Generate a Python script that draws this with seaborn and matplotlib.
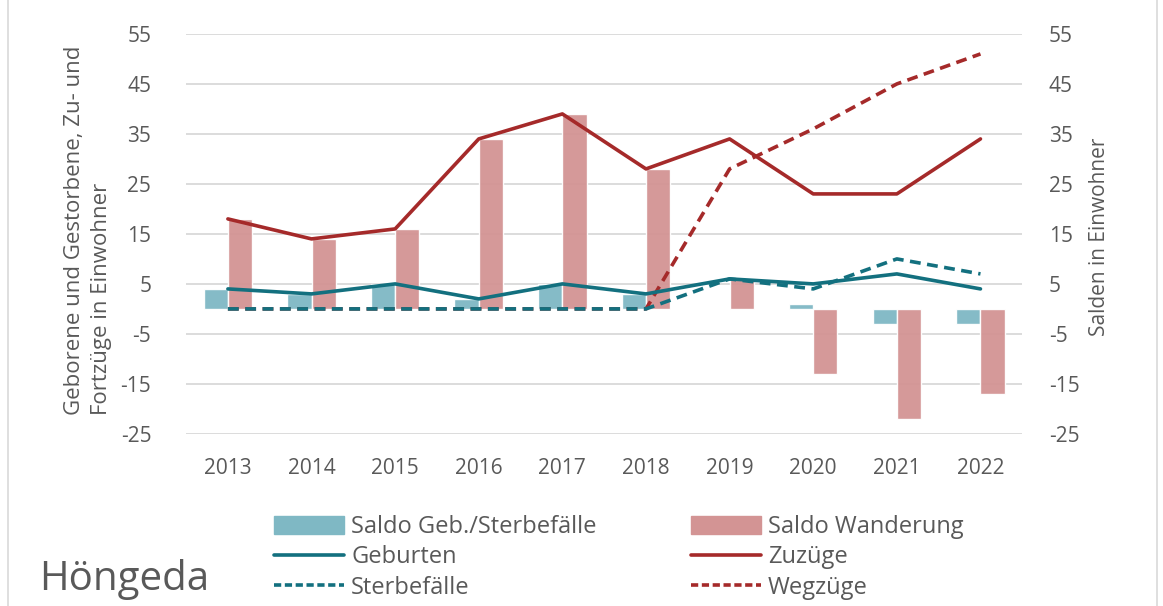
import matplotlib.pyplot as plt
import numpy as np
import pandas as pd
import seaborn as sns
from matplotlib.patches import Patch, Rectangle
from matplotlib.lines import Line2D

# Werte
jahre = ["2013", "2014", "2015", "2016", "2017", "2018", "2019", "2020", "2021", "2022"]
geburten = [4, 3, 5, 2, 5, 3, 6, 5, 7, 4]
sterbefaelle = [0, 0, 0, 0, 0, 0, 6, 4, 10, 7]
zuzuege = [18, 14, 16, 34, 39, 28, 34, 23, 23, 34]
wegzuege = [0, 0, 0, 0, 0, 0, 28, 36, 45, 51]
saldo_geb = [4, 3, 5, 2, 5, 3, 0, 1, -3, -3]
saldo_wand = [18, 14, 16, 34, 39, 28, 6, -13, -22, -17]

teal_bar = "#7fb8c4"
red_bar = "#d39494"
teal = "#13707f"
red = "#a52a2a"
grau = "#595959"

sns.set_theme(style="white")
plt.rcParams["font.family"] = ["Open Sans", "DejaVu Sans"]
plt.rcParams["axes.unicode_minus"] = False

bars = pd.DataFrame({
    "Jahr": jahre * 2,
    "Wert": saldo_geb + saldo_wand,
    "Art": ["Saldo Geb./Sterbefälle"] * 10 + ["Saldo Wanderung"] * 10,
})

fig = plt.figure(figsize=(11.63, 6.06), dpi=100)
ax = fig.add_axes([0.16, 0.284, 0.719, 0.66])

for y in range(-25, 56, 10):
    ax.axhline(y, color="#d9d9d9", lw=1.3, zorder=0)

sns.barplot(data=bars, x="Jahr", y="Wert", hue="Art",
            palette=[teal_bar, red_bar], width=0.58, alpha=0.95, saturation=1,
            legend=False, ax=ax, zorder=2)

x = np.arange(len(jahre))
lw = 2.6
sns.lineplot(x=x, y=geburten, color=teal, lw=lw, ax=ax, zorder=4)
sns.lineplot(x=x, y=sterbefaelle, color=teal, lw=lw, ax=ax, zorder=4, linestyle=(0, (3, 1.8)))
sns.lineplot(x=x, y=zuzuege, color=red, lw=lw, ax=ax, zorder=3)
sns.lineplot(x=x, y=wegzuege, color=red, lw=lw, ax=ax, zorder=3, linestyle=(0, (3, 1.8)))

ax.set_xlim(-0.5, 9.5)
ax.set_ylim(-25, 55)
ax.set_yticks(range(-25, 56, 10))
ax.set_xticks(x)
ax.set_xticklabels(jahre)
ax.tick_params(axis="both", length=0, labelsize=15, labelcolor=grau)
ax.tick_params(axis="x", pad=17)
ax.tick_params(axis="y", pad=25)
ax.set_xlabel("")
ax.set_ylabel("Geborene und Gestorbene, Zu- und\nFortzüge in Einwohner",
              fontsize=16, color=grau, linespacing=1.35, multialignment="left")
ax.yaxis.set_label_coords(-0.089, 0.51)
for s in ax.spines.values():
    s.set_visible(False)

ax2 = ax.twinx()
ax2.set_ylim(-25, 55)
ax2.set_yticks(range(-25, 56, 10))
ax2.tick_params(axis="y", length=0, labelsize=15, labelcolor=grau, pad=19)
ax2.set_ylabel("Salden in Einwohner", fontsize=15, color=grau)
ax2.yaxis.set_label_coords(1.08, 0.492)
for s in ax2.spines.values():
    s.set_visible(False)

handles = [
    Patch(color=teal_bar, label="Saldo Geb./Sterbefälle"),
    Line2D([], [], color=teal, lw=lw, label="Geburten"),
    Line2D([], [], color=teal, lw=lw, linestyle=(0, (2, 1)), label="Sterbefälle"),
    Patch(color=red_bar, label="Saldo Wanderung"),
    Line2D([], [], color=red, lw=lw, label="Zuzüge"),
    Line2D([], [], color=red, lw=lw, linestyle=(0, (2, 1)), label="Wegzüge"),
]
fig.legend(handles=handles, ncol=2, loc="upper left", bbox_to_anchor=(0.236, 0.150),
           frameon=False, fontsize=17, labelcolor=grau, handlelength=2.95,
           handleheight=0.75, handletextpad=0.3, columnspacing=4.0,
           labelspacing=0.27, borderaxespad=0, borderpad=0)

fig.text(0.034, 0.026, "Höngeda", fontsize=29, color=grau, va="baseline")
fig.patches.append(Rectangle((0.007, -0.1), 0.988, 1.2, transform=fig.transFigure,
                             fill=False, edgecolor="#d9d9d9", lw=1.2))

fig.savefig("out.png", dpi=100)
